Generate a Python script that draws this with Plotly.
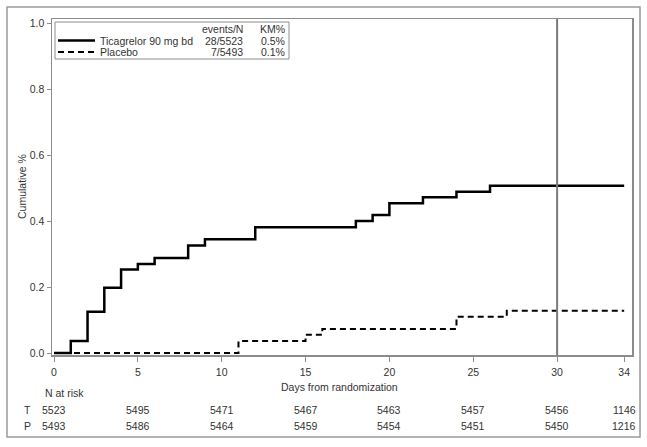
import plotly.graph_objects as go

# ---- data ----
tic_days = [0, 1, 2, 3, 4, 5, 6, 8, 9, 12, 18, 19, 20, 22, 24, 26, 34]
tic_cum = [0, 0.036, 0.125, 0.198, 0.253, 0.27, 0.288, 0.326, 0.345, 0.381,
           0.4, 0.418, 0.454, 0.472, 0.489, 0.507, 0.507]
pla_days = [0, 11, 15, 16, 24, 27, 34]
pla_cum = [0, 0.036, 0.055, 0.073, 0.11, 0.128, 0.128]

x_ticks = [0, 5, 10, 15, 20, 25, 30, 34]
y_ticks = [0.0, 0.2, 0.4, 0.6, 0.8, 1.0]
y_tick_labels = ["0.0", "0.2", "0.4", "0.6", "0.8", "1.0"]

risk_days = [0, 5, 10, 15, 20, 25, 30, 34]
risk_T = [5523, 5495, 5471, 5467, 5463, 5457, 5456, 1146]
risk_P = [5493, 5486, 5464, 5459, 5454, 5451, 5450, 1216]

legend_names = ["Ticagrelor 90 mg bd", "Placebo"]
legend_events = ["28/5523", "7/5493"]
legend_km = ["0.5%", "0.1%"]

FONT = "Liberation Sans, Arial, sans-serif"
TXT = "#333333"
AX = "#8c8c8c"
FS = 10.5

W, H = 647, 447
L, R, T, B = 52, 15, 19, 92
PW, PH = W - L - R, H - T - B


def px2paper_x(px):
    return (px - L) / PW


def py2paper_y(py):
    return (H - B - py) / PH


fig = go.Figure()
fig.add_trace(go.Scatter(x=tic_days, y=tic_cum, mode="lines", line_shape="hv",
                         line=dict(color="black", width=2.5), showlegend=False,
                         hoverinfo="skip"))
fig.add_trace(go.Scatter(x=pla_days, y=pla_cum, mode="lines", line_shape="hv",
                         line=dict(color="black", width=2, dash="6px,4px"),
                         showlegend=False, hoverinfo="skip"))

shapes = []
# vertical reference line at day 30
shapes.append(dict(type="line", xref="x", yref="paper", x0=30, x1=30, y0=0, y1=1,
                   line=dict(color="#7a7a7a", width=2)))
# outer frame
shapes.append(dict(type="rect", xref="paper", yref="paper",
                   x0=px2paper_x(7), x1=px2paper_x(640),
                   y0=py2paper_y(437), y1=py2paper_y(7),
                   line=dict(color="#9a9a9a", width=1.5)))
# legend box
shapes.append(dict(type="rect", xref="paper", yref="paper",
                   x0=px2paper_x(55), x1=px2paper_x(289),
                   y0=py2paper_y(59), y1=py2paper_y(22),
                   line=dict(color="#8c8c8c", width=1), fillcolor="white"))
# legend samples
shapes.append(dict(type="line", xref="paper", yref="paper",
                   x0=px2paper_x(58), x1=px2paper_x(95),
                   y0=py2paper_y(40.5), y1=py2paper_y(40.5),
                   line=dict(color="black", width=2.5)))
shapes.append(dict(type="line", xref="paper", yref="paper",
                   x0=px2paper_x(58), x1=px2paper_x(95),
                   y0=py2paper_y(52), y1=py2paper_y(52),
                   line=dict(color="black", width=2, dash="6px,4px")))

ann = []
font = dict(family=FONT, size=FS, color=TXT)
# legend text
ann.append(dict(xref="paper", yref="paper", x=px2paper_x(245), y=py2paper_y(28.5),
                text="events/N", showarrow=False, xanchor="right", yanchor="middle", font=font))
ann.append(dict(xref="paper", yref="paper", x=px2paper_x(287), y=py2paper_y(28.5),
                text="KM%", showarrow=False, xanchor="right", yanchor="middle", font=font))
for i, yy in enumerate([40.5, 52]):
    ann.append(dict(xref="paper", yref="paper", x=px2paper_x(98), y=py2paper_y(yy),
                    text=legend_names[i], showarrow=False, xanchor="left", yanchor="middle", font=font))
    ann.append(dict(xref="paper", yref="paper", x=px2paper_x(245), y=py2paper_y(yy),
                    text=legend_events[i], showarrow=False, xanchor="right", yanchor="middle", font=font))
    ann.append(dict(xref="paper", yref="paper", x=px2paper_x(287), y=py2paper_y(yy),
                    text=legend_km[i], showarrow=False, xanchor="right", yanchor="middle", font=font))

# x axis title
ann.append(dict(xref="x", yref="paper", x=17, y=py2paper_y(387),
                text="Days from randomization", showarrow=False, xanchor="center",
                yanchor="middle", font=font))
# at-risk table
ann.append(dict(xref="paper", yref="paper", x=px2paper_x(43), y=py2paper_y(393),
                text="N at risk", showarrow=False, xanchor="left", yanchor="middle", font=font))
ann.append(dict(xref="paper", yref="paper", x=px2paper_x(27), y=py2paper_y(410),
                text="T", showarrow=False, xanchor="center", yanchor="middle", font=font))
ann.append(dict(xref="paper", yref="paper", x=px2paper_x(27), y=py2paper_y(426),
                text="P", showarrow=False, xanchor="center", yanchor="middle", font=font))
for d, t, p in zip(risk_days, risk_T, risk_P):
    ann.append(dict(xref="x", yref="paper", x=d, y=py2paper_y(410), text=str(t),
                    showarrow=False, xanchor="center", yanchor="middle", font=font))
    ann.append(dict(xref="x", yref="paper", x=d, y=py2paper_y(426), text=str(p),
                    showarrow=False, xanchor="center", yanchor="middle", font=font))
# y axis title
ann.append(dict(xref="paper", yref="paper", x=px2paper_x(22), y=0.5,
                text="Cumulative %", showarrow=False, textangle=-90,
                xanchor="center", yanchor="middle", font=font))

x_lo = (52 - 54) / 16.77
x_hi = (632 - 54) / 16.77
y_lo = (353 - 355) / 330
y_hi = (353 - 19) / 330

fig.update_layout(
    width=W, height=H,
    margin=dict(l=L, r=R, t=T, b=B, pad=0),
    paper_bgcolor="white", plot_bgcolor="white",
    shapes=shapes, annotations=ann,
    font=dict(family=FONT, size=FS, color=TXT),
    xaxis=dict(range=[x_lo, x_hi], tickvals=x_ticks, ticktext=[str(v) for v in x_ticks],
               showgrid=False, zeroline=False, showline=True, mirror=True,
               linecolor=AX, linewidth=1.5, ticks="outside", ticklen=5,
               tickcolor=AX, tickfont=font, ticklabelstandoff=2),
    yaxis=dict(range=[y_lo, y_hi], tickvals=y_ticks, ticktext=y_tick_labels,
               showgrid=False, zeroline=False, showline=True, mirror=True,
               linecolor=AX, linewidth=1.5, ticks="outside", ticklen=4,
               tickcolor=AX, tickfont=font),
)

fig.write_html("out.html",
               config={"displayModeBar": False, "staticPlot": True},
               post_script="document.body.style.margin='0';document.body.style.overflow='hidden';")
